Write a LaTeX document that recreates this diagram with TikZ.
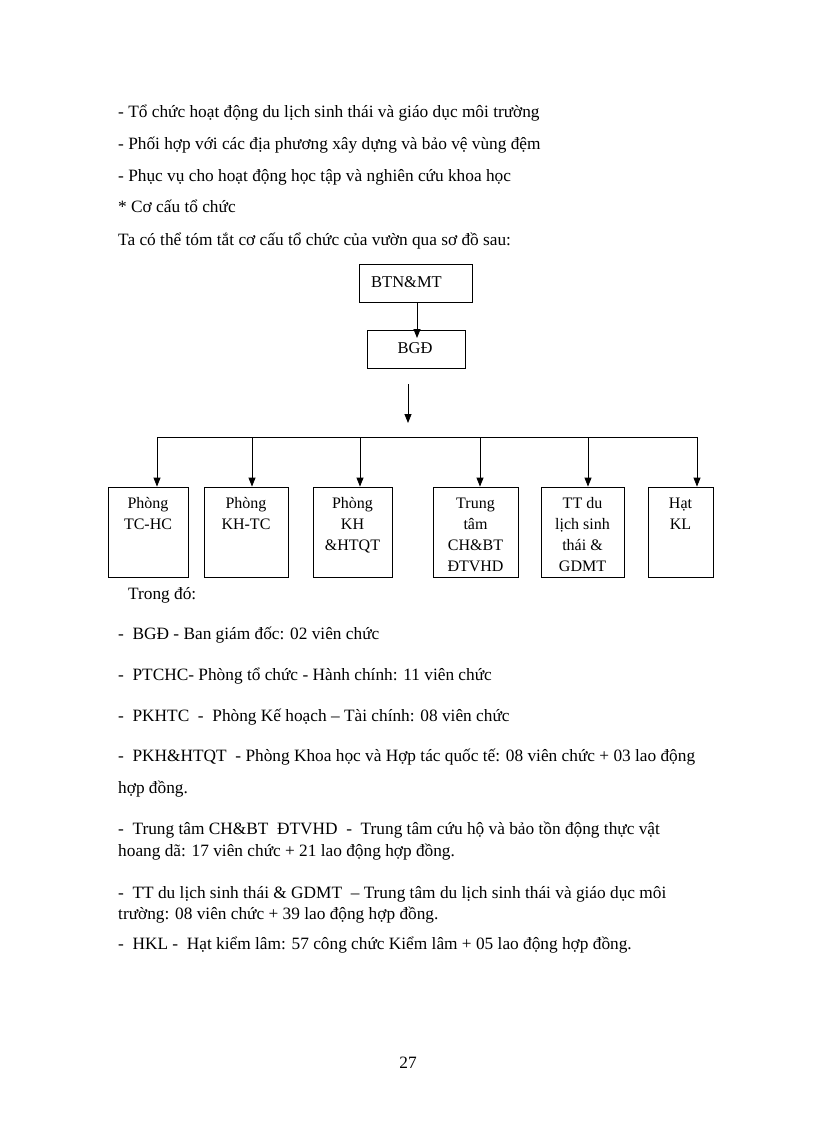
\documentclass[tikz,border=0pt]{standalone}
\usepackage{fontspec}
\setmainfont{Liberation Serif}
\usetikzlibrary{arrows.meta}
\begin{document}
\begin{tikzpicture}[x=1pt,y=-1pt,
  txt/.style={anchor=base west,inner sep=0pt,font=\fontsize{17.3}{20}\selectfont},
  box/.style={draw,line width=0.8pt,inner sep=0pt},
  boxtxt/.style={anchor=north,inner sep=0pt,align=center,font=\fontsize{16}{21}\selectfont},
  toptxt/.style={inner sep=0pt,font=\fontsize{16.5}{20}\selectfont},
  arr/.style={line width=0.8pt,-{Triangle[width=7pt,length=9pt]}},
  bus/.style={line width=0.8pt}]
\useasboundingbox[fill=white] (0,0) rectangle (816,1123);
% body text above
\node[txt] (l1) at (118,118) {- Tổ chức hoạt động du lịch sinh thái và giáo dục môi trường};
\node[txt] (l2) at (118,150) {- Phối hợp với các địa phương xây dựng và bảo vệ vùng đệm};
\node[txt] (l3) at (118,182) {- Phục vụ cho hoạt động học tập và nghiên cứu khoa học};
\node[txt] (l4) at (118,213) {* Cơ cấu tổ chức};
\node[txt] (l5) at (118,245) {Ta có thể tóm tắt cơ cấu tổ chức của vườn qua sơ đồ sau:};
% top boxes
\node[box,minimum width=113pt,minimum height=38pt] (btn) at (415.5,283) {};
\node[toptxt,anchor=base west] (btnt) at (371,287) {BTN\&MT};
\node[box,minimum width=98pt,minimum height=38pt] (bgd) at (416,349) {};
\node[toptxt,anchor=base] (bgdt) at (415,353) {BGĐ};
\coordinate (t1) at (417,338);
\draw[arr] (btn.south -| t1) -- (t1);
\coordinate (a1) at (408,384);
\coordinate (a2) at (408,423);
\draw[arr] (a1) -- (a2);
% lower boxes
\node[box,minimum width=80pt,minimum height=90pt] (b1) at (148,532) {};
\node[box,minimum width=84pt,minimum height=90pt] (b2) at (246,532) {};
\node[box,minimum width=79pt,minimum height=90pt] (b3) at (352.5,532) {};
\node[box,minimum width=85pt,minimum height=90pt] (b4) at (475.5,532) {};
\node[box,minimum width=83pt,minimum height=90pt] (b5) at (582.5,532) {};
\node[box,minimum width=65pt,minimum height=90pt] (b6) at (680.5,532) {};
\node[boxtxt] (b1t) at ([yshift=-11pt]b1.north) {Phòng\\TC-HC};
\node[boxtxt] (b2t) at ([yshift=-11pt]b2.north) {Phòng\\KH-TC};
\node[boxtxt] (b3t) at ([yshift=-11pt]b3.north) {Phòng\\KH\\\&HTQT};
\node[boxtxt] (b4t) at ([yshift=-11pt]b4.north) {Trung\\tâm\\CH\&BT\\ĐTVHD};
\node[boxtxt] (b5t) at ([yshift=-11pt]b5.north) {TT du\\lịch sinh\\thái \&\\GDMT};
\node[boxtxt] (b6t) at ([yshift=-11pt]b6.north) {Hạt\\KL};
\coordinate (c1) at (157,437);
\coordinate (c2) at (252,437);
\coordinate (c3) at (360,437);
\coordinate (c4) at (480,437);
\coordinate (c5) at (588,437);
\coordinate (c6) at (697,437);
\draw[bus] (c1) -- (c6);
\draw[arr] (c1) -- (c1 |- b1.north);
\draw[arr] (c2) -- (c2 |- b2.north);
\draw[arr] (c3) -- (c3 |- b3.north);
\draw[arr] (c4) -- (c4 |- b4.north);
\draw[arr] (c5) -- (c5 |- b5.north);
\draw[arr] (c6) -- (c6 |- b6.north);
% text below
\node[txt] (m0) at (128,599) {Trong đó:};
\node[txt] (m1) at (118,639) {- \ BGĐ - Ban giám đốc: 02 viên chức};
\node[txt] (m2) at (118,680) {- \ PTCHC- Phòng tổ chức - Hành chính: 11 viên chức};
\node[txt] (m3) at (118,721) {- \ PKHTC \ - \ Phòng Kế hoạch – Tài chính: 08 viên chức};
\node[txt] (m4) at (118,761) {- \ PKH\&HTQT \ - Phòng Khoa học và Hợp tác quốc tế: 08 viên chức + 03 lao động};
\node[txt] (m5) at (118,793) {hợp đồng.};
\node[txt] (m6) at (118,834) {- \ Trung tâm CH\&BT \ ĐTVHD \ - \ Trung tâm cứu hộ và bảo tồn động thực vật};
\node[txt] (m7) at (118,856) {hoang dã: 17 viên chức + 21 lao động hợp đồng.};
\node[txt] (m8) at (118,898) {- \ TT du lịch sinh thái \& GDMT \ – Trung tâm du lịch sinh thái và giáo dục môi};
\node[txt] (m9) at (118,919) {trường: 08 viên chức + 39 lao động hợp đồng.};
\node[txt] (m10) at (118,949) {- \ HKL - \ Hạt kiểm lâm: 57 công chức Kiểm lâm + 05 lao động hợp đồng.};
\node[txt,anchor=base] (pg) at (408,1068) {27};
\end{tikzpicture}
\end{document}
